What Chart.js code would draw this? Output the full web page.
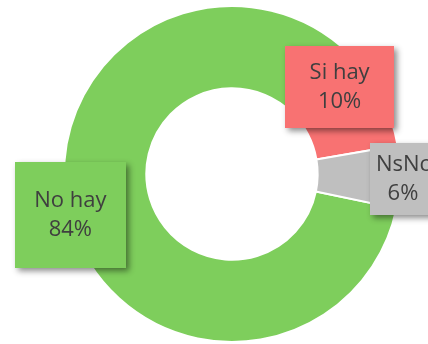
<!DOCTYPE html>
<html>
<head>
<meta charset="utf-8">
<script src="https://cdn.jsdelivr.net/npm/chart.js@4"></script>
<style>
  html, body { margin: 0; padding: 0; background: #ffffff; }
  canvas { display: block; }
</style>
</head>
<body>
<canvas id="chart" width="428" height="344"></canvas>
<script>
// Categories and their shares (%)
const categories = ["No hay", "Si hay", "NsNc"];
const shares = [84, 10, 6];
const sliceColors = ["#7ECE5C", "#F87272", "#BFBFBF"];

// Callout boxes: offset from the slice's outer mid-point, and box size
const calloutLayout = [
  { dx: -1, dy: -8, w: 111, h: 106 },
  { dx: -41, dy: -9, w: 109, h: 82 },
  { dx: 3, dy: 2, w: 66, h: 72 }
];

const calloutPlugin = {
  id: "callouts",
  afterDatasetsDraw(chart) {
    const ctx = chart.ctx;
    const meta = chart.getDatasetMeta(0);
    meta.data.forEach((arc, i) => {
      const p = arc.getProps(["x", "y", "startAngle", "endAngle", "outerRadius"], true);
      const mid = (p.startAngle + p.endAngle) / 2;
      const ax = p.x + Math.cos(mid) * p.outerRadius;
      const ay = p.y + Math.sin(mid) * p.outerRadius;
      const L = calloutLayout[i];
      const cx = ax + L.dx;
      const cy = ay + L.dy;
      ctx.save();
      ctx.shadowColor = "rgba(0,0,0,0.45)";
      ctx.shadowBlur = 6;
      ctx.shadowOffsetX = 3;
      ctx.shadowOffsetY = 3;
      ctx.fillStyle = sliceColors[i];
      ctx.fillRect(Math.round(cx - L.w / 2), Math.round(cy - L.h / 2), L.w, L.h);
      ctx.restore();
      ctx.save();
      ctx.fillStyle = "#3F3F3F";
      ctx.font = '22px "Open Sans", "Liberation Sans", sans-serif';
      ctx.textAlign = "center";
      ctx.textBaseline = "middle";
      ctx.fillText(categories[i], cx, cy - 14);
      ctx.fillText(shares[i] + "%", cx, cy + 15);
      ctx.restore();
    });
  }
};

new Chart(document.getElementById("chart"), {
  type: "doughnut",
  data: {
    labels: categories,
    datasets: [{
      data: shares,
      backgroundColor: sliceColors,
      borderColor: "#ffffff",
      borderWidth: 2,
      hoverOffset: 0
    }]
  },
  options: {
    responsive: false,
    animation: false,
    devicePixelRatio: 1,
    rotation: 101.8,
    cutout: "51%",
    layout: { padding: { top: 5, bottom: 1, left: 50, right: 14 } },
    plugins: {
      legend: { display: false },
      tooltip: { enabled: false }
    }
  },
  plugins: [calloutPlugin]
});
</script>
</body>
</html>
